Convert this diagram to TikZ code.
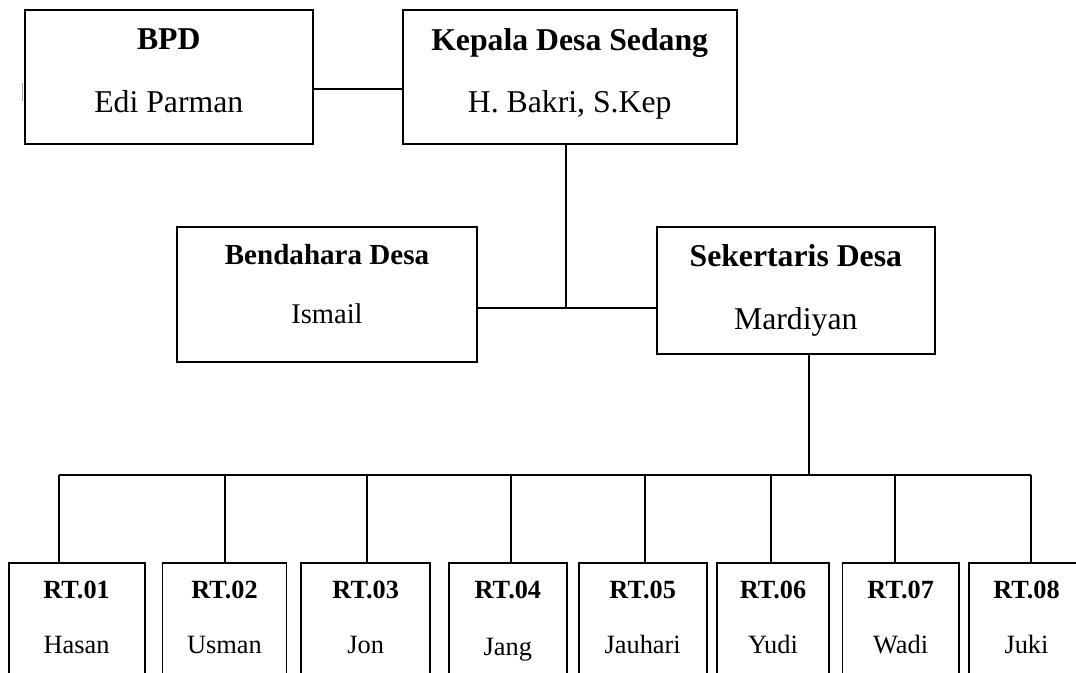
\documentclass[tikz,border=0pt]{standalone}
\usepackage{fontspec}
\setmainfont{Liberation Serif}
\usetikzlibrary{fit}
\tikzset{
  orgbox/.style={draw=black, line width=1.4pt, inner sep=0pt, outer sep=0pt, fill=none},
  conn/.style={draw=black, line width=1.4pt},
  bigtitle/.style={anchor=base, inner sep=0pt, font=\fontsize{23.8}{28}\selectfont\bfseries},
  bigname/.style={anchor=base, inner sep=0pt, font=\fontsize{23.8}{28}\selectfont},
  midtitle/.style={anchor=base, inner sep=0pt, font=\fontsize{21.8}{26}\selectfont\bfseries},
  midname/.style={anchor=base, inner sep=0pt, font=\fontsize{21.4}{26}\selectfont},
  rttitle/.style={anchor=base, inner sep=0pt, font=\fontsize{19.7}{24}\selectfont\bfseries},
  rtname/.style={anchor=base, inner sep=0pt, font=\fontsize{19.8}{24}\selectfont},
  sliver/.style={draw=black!35, line width=0.8pt},
}
\begin{document}
\begin{tikzpicture}[x=0.75pt, y=-0.75pt]
\useasboundingbox (0,0) rectangle (1076,673);
\clip (0,0) rectangle (1076,673);
\fill[white] (0,0) rectangle (1076,673);

% top boxes
\node[orgbox, fit={(25,10) (312.7,144.3)}] (bpd) {};
\node[orgbox, fit={(402.7,10) (736.7,144.3)}] (kep) {};
\node[orgbox, fit={(176.7,226.7) (477.3,362.3)}] (ben) {};
\node[orgbox, fit={(656.7,226.7) (935,354.3)}] (sek) {};

% faint sliver at the left edge of the BPD box
\draw[sliver] ([xshift=-1.6pt]bpd.west |- 0,83) -- ([xshift=-1.6pt]bpd.west |- 0,101);

\node[bigtitle] (bpdT) at (168.8,50) {BPD};
\node[bigname]  (bpdN) at (168.8,112.7) {Edi Parman};
\node[bigtitle] (kepT) at (569.7,50.7) {Kepala Desa Sedang};
\node[bigname]  (kepN) at (569.7,112.7) {H. Bakri, S.Kep};
\node[midtitle] (benT) at (327,265) {Bendahara Desa};
\node[midname]  (benN) at (327,323.3) {Ismail};
\node[bigtitle] (sekT) at (795.8,266.7) {Sekertaris Desa};
\node[bigname]  (sekN) at (795.8,329.3) {Mardiyan};

% RT boxes
\node[orgbox, fit={(8.6,562.7) (144.6,700)}] (rt1) {};
\node[orgbox, fit={(162.5,562.7) (286.5,700)}] (rt2) {};
\node[orgbox, fit={(301,562.7) (430.4,700)}] (rt3) {};
\node[orgbox, fit={(448.7,562.7) (567,700)}] (rt4) {};
\node[orgbox, fit={(578.7,562.7) (706.8,700)}] (rt5) {};
\node[orgbox, fit={(717,562.7) (829,700)}] (rt6) {};
\node[orgbox, fit={(842.5,562.7) (959,700)}] (rt7) {};
\node[orgbox, fit={(969,562.7) (1084,700)}] (rt8) {};

\node[rttitle] (rt1T) at (76.6,598.3) {RT.01};
\node[rtname]  (rt1N) at (76.6,654) {Hasan};
\node[rttitle] (rt2T) at (224.5,598.3) {RT.02};
\node[rtname]  (rt2N) at (224.5,654) {Usman};
\node[rttitle] (rt3T) at (365.7,598.3) {RT.03};
\node[rtname]  (rt3N) at (365.7,654) {Jon};
\node[rttitle] (rt4T) at (507.9,598.3) {RT.04};
\node[rtname]  (rt4N) at (507.9,655.5) {Jang};
\node[rttitle] (rt5T) at (642.7,598.3) {RT.05};
\node[rtname]  (rt5N) at (642.7,654) {Jauhari};
\node[rttitle] (rt6T) at (773,598.3) {RT.06};
\node[rtname]  (rt6N) at (773,654) {Yudi};
\node[rttitle] (rt7T) at (900.7,598.3) {RT.07};
\node[rtname]  (rt7N) at (900.7,654) {Wadi};
\node[rttitle] (rt8T) at (1026.5,598.3) {RT.08};
\node[rtname]  (rt8N) at (1026.5,654) {Juki};

% connectors
\coordinate (c1) at (350,89.3);
\draw[conn] (bpd.east |- c1) -- (kep.west |- c1);

\coordinate (j1) at (566,308.3);
\draw[conn] (kep.south -| j1) -- (j1);
\draw[conn] (ben.east |- j1) -- (sek.west |- j1);

\coordinate (j2) at (809,474.7);
\draw[conn] (sek.south -| j2) -- (j2);

\coordinate (d1) at (59,474.7);
\coordinate (d2) at (225,474.7);
\coordinate (d3) at (367,474.7);
\coordinate (d4) at (511,474.7);
\coordinate (d5) at (645,474.7);
\coordinate (d6) at (771,474.7);
\coordinate (d7) at (895,474.7);
\coordinate (d8) at (1031,474.7);
\draw[conn] (d1) -- (d8);
\draw[conn] (d1) -- (d1 |- rt1.north);
\draw[conn] (d2) -- (d2 |- rt2.north);
\draw[conn] (d3) -- (d3 |- rt3.north);
\draw[conn] (d4) -- (d4 |- rt4.north);
\draw[conn] (d5) -- (d5 |- rt5.north);
\draw[conn] (d6) -- (d6 |- rt6.north);
\draw[conn] (d7) -- (d7 |- rt7.north);
\draw[conn] (d8) -- (d8 |- rt8.north);
\end{tikzpicture}
\end{document}
